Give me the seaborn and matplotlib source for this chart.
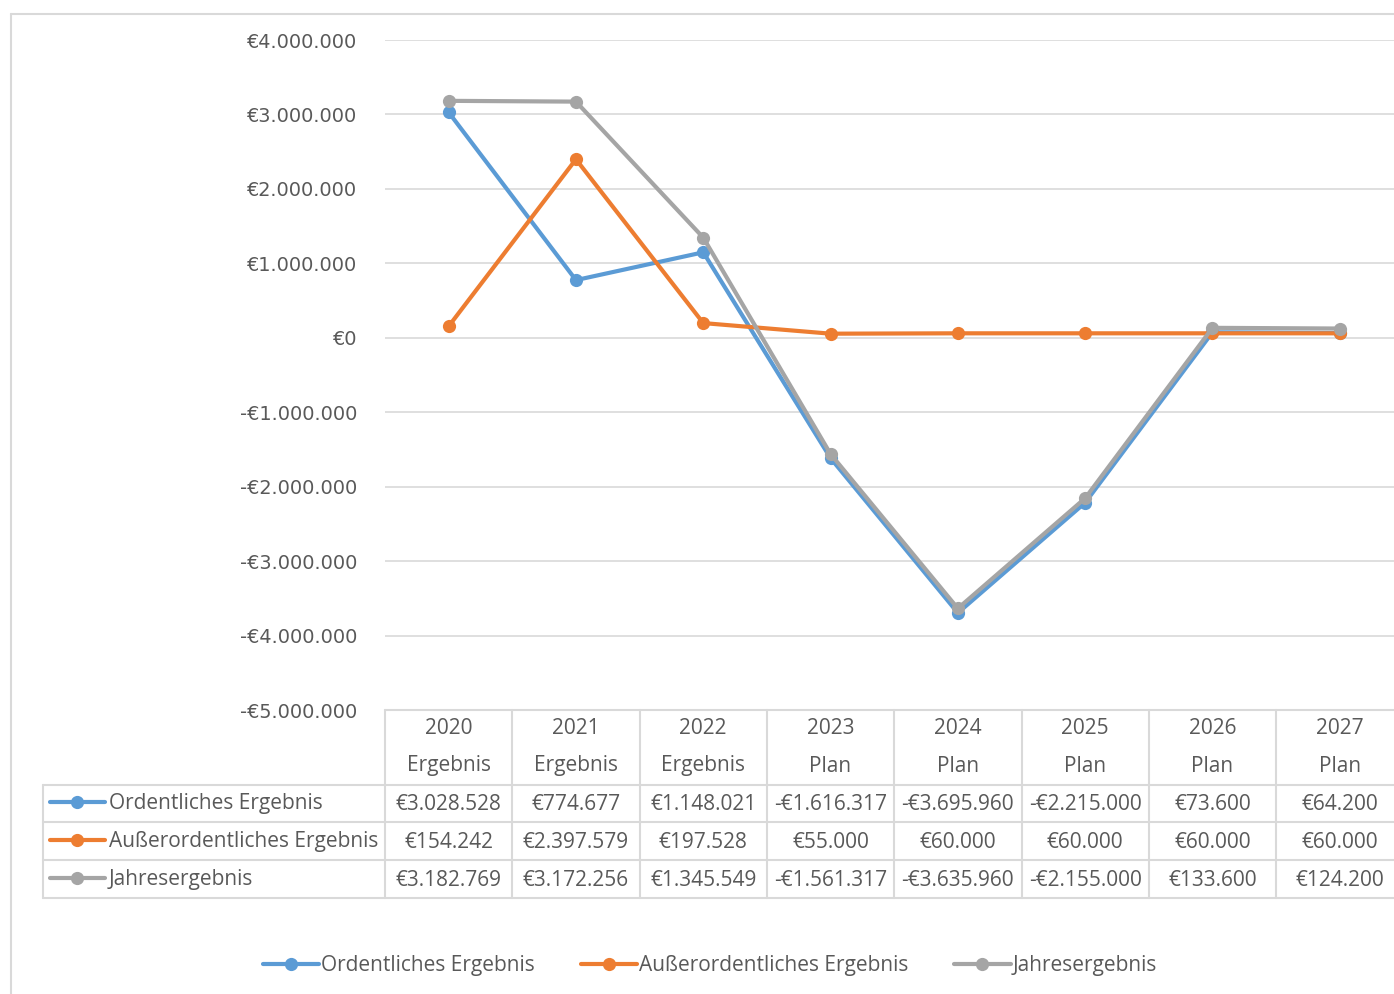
import matplotlib
matplotlib.use("Agg")
import matplotlib.pyplot as plt
import matplotlib.transforms as mtransforms
from matplotlib.lines import Line2D
import pandas as pd
import seaborn as sns

# data
years = ["2020", "2021", "2022", "2023", "2024", "2025", "2026", "2027"]
kinds = ["Ergebnis", "Ergebnis", "Ergebnis", "Plan", "Plan", "Plan", "Plan", "Plan"]
ordentlich = [3028528, 774677, 1148021, -1616317, -3695960, -2215000, 73600, 64200]
ausserordentlich = [154242, 2397579, 197528, 55000, 60000, 60000, 60000, 60000]
jahres = [3182769, 3172256, 1345549, -1561317, -3635960, -2155000, 133600, 124200]
series_names = ["Ordentliches Ergebnis", "Außerordentliches Ergebnis", "Jahresergebnis"]
colors = ["#5B9BD5", "#ED7D31", "#A5A5A5"]
y_ticks = [4000000, 3000000, 2000000, 1000000, 0, -1000000, -2000000, -3000000, -4000000, -5000000]

W, H = 1394, 994
GRID = "#D9D9D9"
TEXT = "#595959"
TABLE_FONT = "Open Sans"
TABLE_SIZE = 15


def fx(px):
    return px / W


def fy(py):
    return 1 - py / H


def euro(v):
    s = f"{abs(v):,}".replace(",", ".")
    return ("-€" if v < 0 else "€") + s


rows = []
for name, vals in zip(series_names, [ordentlich, ausserordentlich, jahres]):
    for i, v in enumerate(vals):
        rows.append({"pos": i, "series": name, "value": v})
df = pd.DataFrame(rows)

sns.set_theme(style="white")
plt.rcParams["font.family"] = ["DejaVu Sans"]

fig = plt.figure(figsize=(W / 100, H / 100), dpi=100)
ax = fig.add_axes([fx(385), fy(710), fx(8 * 127.3), (710 - 40) / H])

sns.lineplot(
    data=df, x="pos", y="value", hue="series", hue_order=series_names,
    palette=colors, marker="o", markersize=9.5, markeredgewidth=0,
    linewidth=3, legend=False, ax=ax,
)

ax.set_xlim(-0.5, len(years) - 0.5)
ax.set_ylim(-5000000, 4000000)
ax.set_yticks(y_ticks)
ax.set_yticklabels([euro(v) if v != 0 else "€0" for v in y_ticks])
ax.set_xticks([])
ax.set_xlabel("")
ax.set_ylabel("")
ax.grid(axis="y", color=GRID, linewidth=1.2)
ax.set_axisbelow(True)
for sp in ax.spines.values():
    sp.set_visible(False)
ax.tick_params(axis="y", length=0, pad=20, labelsize=13.9, labelcolor=TEXT)

# data table under the plot: x in data coords, y in figure coords
tr = mtransforms.blended_transform_factory(ax.transData, fig.transFigure)
edges = [i - 0.5 for i in range(len(years) + 1)]


def hline(x0, x1, ypx):
    fig.add_artist(Line2D([x0, x1], [fy(ypx)] * 2, transform=tr, color=GRID, linewidth=1.5))


def vline(x, y0px, y1px):
    fig.add_artist(Line2D([x, x], [fy(y0px), fy(y1px)], transform=tr, color=GRID, linewidth=1.5))


# left edge of the row-label column, from pixel position
left_x = ax.transData.inverted().transform(fig.transFigure.transform((fx(43), 0)))[0]

hline(edges[0], edges[-1], 710)
for ypx in [785, 822, 860, 898]:
    hline(left_x, edges[-1], ypx)
for e in edges:
    vline(e, 710, 898)
vline(left_x, 785, 898)

for i, (yr, kd) in enumerate(zip(years, kinds)):
    fig.text(i, fy(729), yr, transform=tr, ha="center", va="center",
             fontsize=TABLE_SIZE, color=TEXT, family=TABLE_FONT)
    fig.text(i, fy(766), kd, transform=tr, ha="center", va="center",
             fontsize=TABLE_SIZE, color=TEXT, family=TABLE_FONT)

row_y = [804, 842, 880]
for name, vals, col, ypx in zip(series_names, [ordentlich, ausserordentlich, jahres], colors, row_y):
    fig.add_artist(Line2D([fx(50), fx(105)], [fy(ypx - 2)] * 2, color=col, linewidth=3,
                          solid_capstyle="round"))
    fig.add_artist(Line2D([fx(77)], [fy(ypx - 2)], color=col, marker="o", markersize=9.5,
                          markeredgewidth=0))
    fig.text(fx(109), fy(ypx), name, ha="left", va="center", fontsize=TABLE_SIZE,
             color=TEXT, family=TABLE_FONT)
    for i, v in enumerate(vals):
        fig.text(i, fy(ypx), euro(v), transform=tr, ha="center", va="center",
                 fontsize=TABLE_SIZE, color=TEXT, family=TABLE_FONT)

# outer chart frame
fig.add_artist(Line2D([fx(11), fx(11)], [fy(14), 0], color=GRID, linewidth=1.5))
fig.add_artist(Line2D([fx(11), 1], [fy(14), fy(14)], color=GRID, linewidth=1.5))

# legend
handles = [Line2D([], [], color=c, linewidth=3, marker="o", markersize=9.5, markeredgewidth=0)
           for c in colors]
leg = fig.legend(handles, series_names, loc="center", bbox_to_anchor=(fx(710), fy(966)),
                 ncol=3, frameon=False, handlelength=2.7, handletextpad=0.1,
                 columnspacing=2.2, prop={"family": TABLE_FONT, "size": TABLE_SIZE})
for t in leg.get_texts():
    t.set_color(TEXT)

fig.savefig("out.png", dpi=100)
